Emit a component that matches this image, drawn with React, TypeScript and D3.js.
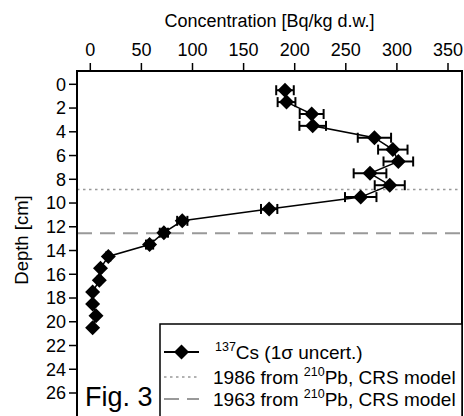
import React from "react";
import * as d3 from "d3";

const depths = [0.5, 1.5, 2.5, 3.5, 4.5, 5.5, 6.5, 7.5, 8.5, 9.5, 10.5, 11.5, 12.5, 13.5, 14.5, 15.5, 16.5, 17.5, 18.5, 19.5, 20.5];
const cs137 = [190.5, 192, 216.6, 217.6, 278, 296, 301.4, 273.7, 293, 264.6, 175, 90, 72, 58, 17.6, 10, 8.8, 2.3, 2.3, 5.6, 2.3];
const cs137Err = [8.6, 8.7, 11.7, 13, 16.3, 14.4, 14.5, 16, 14.7, 15.4, 8, 5, 4, 3.5, 2, 1.5, 1.5, 1, 1, 1, 1];
const xTicks = [0, 50, 100, 150, 200, 250, 300, 350];
const yTicks = [0, 2, 4, 6, 8, 10, 12, 14, 16, 18, 20, 22, 24, 26];
const depth1986 = 8.85;
const depth1963 = 12.55;

const W = 464;
const H = 416;
const frame = { left: 77, top: 71, right: 462, bottom: 422 };
const FONT = "'Liberation Sans', Arial, sans-serif";

export default function App() {
  const x = d3.scaleLinear().domain([0, 350]).range([90.3, 448]);
  const y = d3.scaleLinear().domain([0, 26]).range([84.3, 393]);
  const line = d3
    .line<number>()
    .x((_, i) => x(cs137[i]))
    .y((d) => y(d));
  const diamond = (cx: number, cy: number, r: number) =>
    `M${cx},${cy - r}L${cx + r},${cy}L${cx},${cy + r}L${cx - r},${cy}Z`;
  const R = 7.5;
  const legX = 160;
  const legY = 324;
  const rows = [352, 377, 399];

  return (
    <svg width={W} height={H} style={{ position: "absolute", left: 0, top: 0, background: "#fff" }} fontFamily={FONT}>
      <rect x={0} y={0} width={W} height={H} fill="#fff" />
      {/* reference lines */}
      <line x1={frame.left} x2={frame.right} y1={y(depth1986)} y2={y(depth1986)} stroke="#999" strokeWidth={1.5} strokeDasharray="2.5 3.5" />
      <line x1={frame.left} x2={frame.right} y1={y(depth1963)} y2={y(depth1963)} stroke="#999" strokeWidth={2} strokeDasharray="15 8" />
      {/* connecting line */}
      <path d={line(depths) || ""} fill="none" stroke="#000" strokeWidth={1.5} />
      {/* error bars */}
      {depths.map((d, i) => {
        const cy = y(d);
        const x0 = x(cs137[i] - cs137Err[i]);
        const x1 = x(cs137[i] + cs137Err[i]);
        return (
          <g key={"e" + i} stroke="#000" strokeWidth={2}>
            <line x1={x0} x2={x1} y1={cy} y2={cy} />
            <line x1={x0} x2={x0} y1={cy - 5} y2={cy + 5} />
            <line x1={x1} x2={x1} y1={cy - 5} y2={cy + 5} />
          </g>
        );
      })}
      {/* markers */}
      {depths.map((d, i) => (
        <path key={"m" + i} d={diamond(x(cs137[i]), y(d), R)} fill="#000" />
      ))}
      {/* frame */}
      <rect x={frame.left} y={frame.top} width={frame.right - frame.left} height={frame.bottom - frame.top} fill="none" stroke="#000" strokeWidth={2} />
      {/* top axis */}
      {xTicks.map((t) => (
        <g key={"xt" + t}>
          <line x1={x(t)} x2={x(t)} y1={frame.top - 8} y2={frame.top} stroke="#000" strokeWidth={1.5} />
          <text x={x(t)} y={56} textAnchor="middle" fontSize={18} fill="#000">
            {t}
          </text>
        </g>
      ))}
      <text x={269.5} y={27} textAnchor="middle" fontSize={18} fill="#000">
        Concentration [Bq/kg d.w.]
      </text>
      {/* left axis */}
      {yTicks.map((t) => (
        <g key={"yt" + t}>
          <line x1={frame.left - 8} x2={frame.left} y1={y(t)} y2={y(t)} stroke="#000" strokeWidth={1.5} />
          <text x={frame.left - 11} y={y(t) + 6.3} textAnchor="end" fontSize={18} fill="#000">
            {t}
          </text>
        </g>
      ))}
      <text transform={`translate(28,240) rotate(-90)`} textAnchor="middle" fontSize={18.5} fill="#000">
        Depth [cm]
      </text>
      {/* Fig label */}
      <text x={85} y={406} fontSize={27} fill="#000">
        Fig. 3
      </text>
      {/* legend */}
      <rect x={legX} y={legY} width={frame.right - legX} height={H + 10 - legY} fill="#fff" stroke="#000" strokeWidth={1.5} />
      <line x1={164} x2={199} y1={rows[0]} y2={rows[0]} stroke="#000" strokeWidth={2} />
      <path d={diamond(181.5, rows[0], R)} fill="#000" />
      <line x1={164} x2={199} y1={rows[1]} y2={rows[1]} stroke="#999" strokeWidth={1.5} strokeDasharray="2.5 3.5" />
      <line x1={164} x2={199} y1={rows[2]} y2={rows[2]} stroke="#999" strokeWidth={2} strokeDasharray="15 8" />
      <text x={215} y={rows[0] + 6.5} fontSize={19} fill="#000">
        <tspan fontSize={12.5} dy={-7.5}>137</tspan>
        <tspan dy={7.5}>Cs (1σ uncert.)</tspan>
      </text>
      <text x={213} y={rows[1] + 6.5} fontSize={19} fill="#000">
        1986 from <tspan fontSize={12.5} dy={-7.5}>210</tspan>
        <tspan dy={7.5}>Pb, CRS model</tspan>
      </text>
      <text x={213} y={rows[2] + 6.5} fontSize={19} fill="#000">
        1963 from <tspan fontSize={12.5} dy={-7.5}>210</tspan>
        <tspan dy={7.5}>Pb, CRS model</tspan>
      </text>
    </svg>
  );
}
